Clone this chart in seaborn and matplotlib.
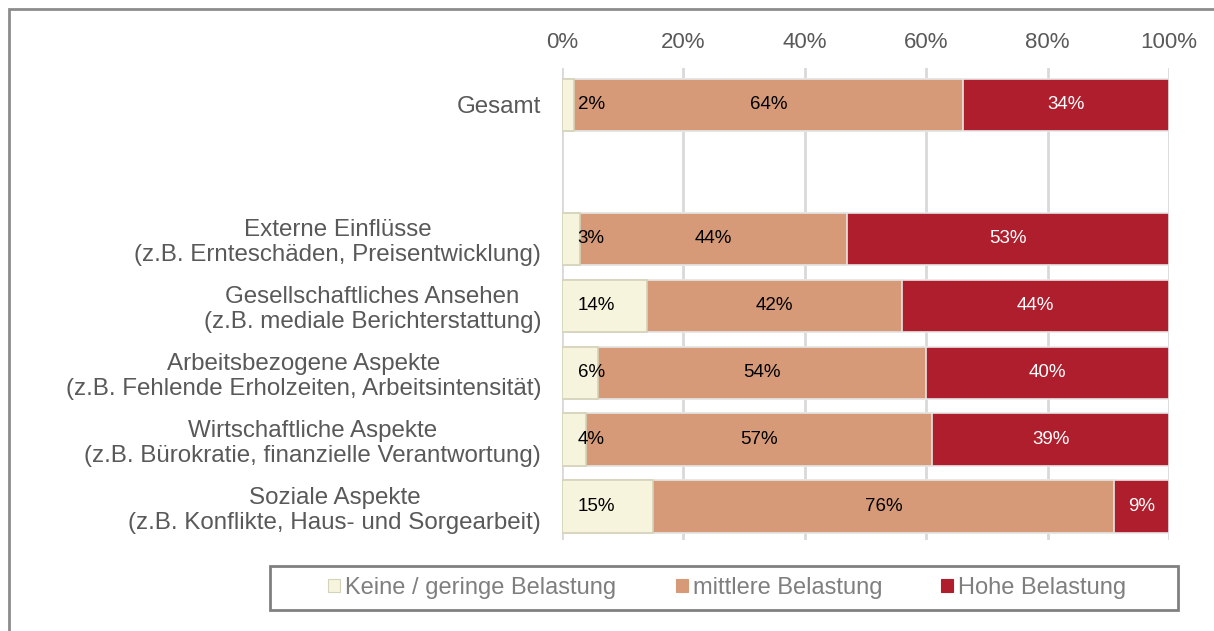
import pandas as pd
import seaborn as sns
import matplotlib.pyplot as plt
from matplotlib.patches import Patch, Rectangle
from matplotlib.ticker import PercentFormatter

# Data (percent shares per category)
categories = [
    "Gesamt",
    "",
    "Externe Einflüsse\n(z.B. Ernteschäden, Preisentwicklung)",
    "Gesellschaftliches Ansehen\n(z.B. mediale Berichterstattung)",
    "Arbeitsbezogene Aspekte\n(z.B. Fehlende Erholzeiten, Arbeitsintensität)",
    "Wirtschaftliche Aspekte\n(z.B. Bürokratie, finanzielle Verantwortung)",
    "Soziale Aspekte\n(z.B. Konflikte, Haus- und Sorgearbeit)",
]
rows = [c for c in categories if c]
low = [2, 3, 14, 6, 4, 15]
mid = [64, 44, 42, 54, 57, 76]
high = [34, 53, 44, 40, 39, 9]
series_names = ["Keine / geringe Belastung", "mittlere Belastung", "Hohe Belastung"]
colors = ["#F6F4DC", "#D69A78", "#AF1E2D"]

df = pd.DataFrame({"cat": rows, "low": low, "mid": mid, "high": high})
df["cum_mid"] = df["low"] + df["mid"]
df["cum_high"] = df["cum_mid"] + df["high"]

sns.set_theme(style="white")
plt.rcParams["font.family"] = ["Liberation Sans", "DejaVu Sans"]

W, H = 1214, 631
fig = plt.figure(figsize=(W / 100, H / 100), dpi=100)
ax = fig.add_axes([562 / W, 1 - 540 / H, 607 / W, 472 / H])

# stacked bars: draw cumulative totals from back to front
for col, color, ec in [("cum_high", colors[2], "#E6E6E6"),
                       ("cum_mid", colors[1], "#E6E6E6"),
                       ("low", colors[0], "#D4D2B8")]:
    sns.barplot(data=df, y="cat", x=col, order=categories, color=color,
                saturation=1, width=0.78, edgecolor=ec, linewidth=1.2,
                ax=ax, orient="h")

# value labels
for i, r in df.iterrows():
    y = categories.index(r["cat"])
    ax.text(2.6, y, f"{r['low']}%", ha="left", va="center", fontsize=13.5, color="black")
    ax.text(r["low"] + r["mid"] / 2, y, f"{r['mid']}%", ha="center", va="center",
            fontsize=13.5, color="black")
    ax.text(r["cum_mid"] + r["high"] / 2, y, f"{r['high']}%", ha="center", va="center",
            fontsize=13.5, color="white")

ax.set_xlim(0, 100)
ax.set_ylim(6.5, -0.55)
ax.set_xticks([0, 20, 40, 60, 80, 100])
ax.xaxis.set_major_formatter(PercentFormatter(decimals=0))
ax.xaxis.tick_top()
ax.set_xlabel("")
ax.set_ylabel("")
ax.grid(axis="x", color="#D9D9D9", linewidth=2)
ax.set_axisbelow(True)
for s in ax.spines.values():
    s.set_visible(False)
ax.tick_params(axis="x", length=0, pad=11, labelsize=16, labelcolor="#595959")
ax.tick_params(axis="y", length=0, pad=15, labelsize=17.4, labelcolor="#595959")
for t in ax.get_yticklabels():
    t.set_multialignment("center")
    t.set_linespacing(1.15)

# legend: one entry per slot, like the original's equal-width columns
handles = [Patch(facecolor=c, edgecolor=e, linewidth=0.8)
           for c, e in zip(colors, ["#D4D2B8", colors[1], colors[2]])]
for h, name, xl in zip(handles, series_names, [328, 676, 941]):
    fig.legend([h], [name], loc="center left", bbox_to_anchor=(xl / W, 1 - 588 / H),
               frameon=False, fontsize=17, handlelength=0.5, handleheight=0.5,
               handletextpad=0.22, borderpad=0, borderaxespad=0,
               labelcolor="#7F7F7F")
fig.patches.append(Rectangle((270 / W, 1 - 610 / H), 908 / W, 44 / H,
                             transform=fig.transFigure, fill=False,
                             edgecolor="#808080", linewidth=2))

# outer frame (left and top visible)
fig.patches.append(Rectangle((9 / W, -0.1), 1.2, 1.1 - 9 / H,
                             transform=fig.transFigure, fill=False,
                             edgecolor="#8C8C8C", linewidth=2))

fig.savefig("out.png", dpi=100)
